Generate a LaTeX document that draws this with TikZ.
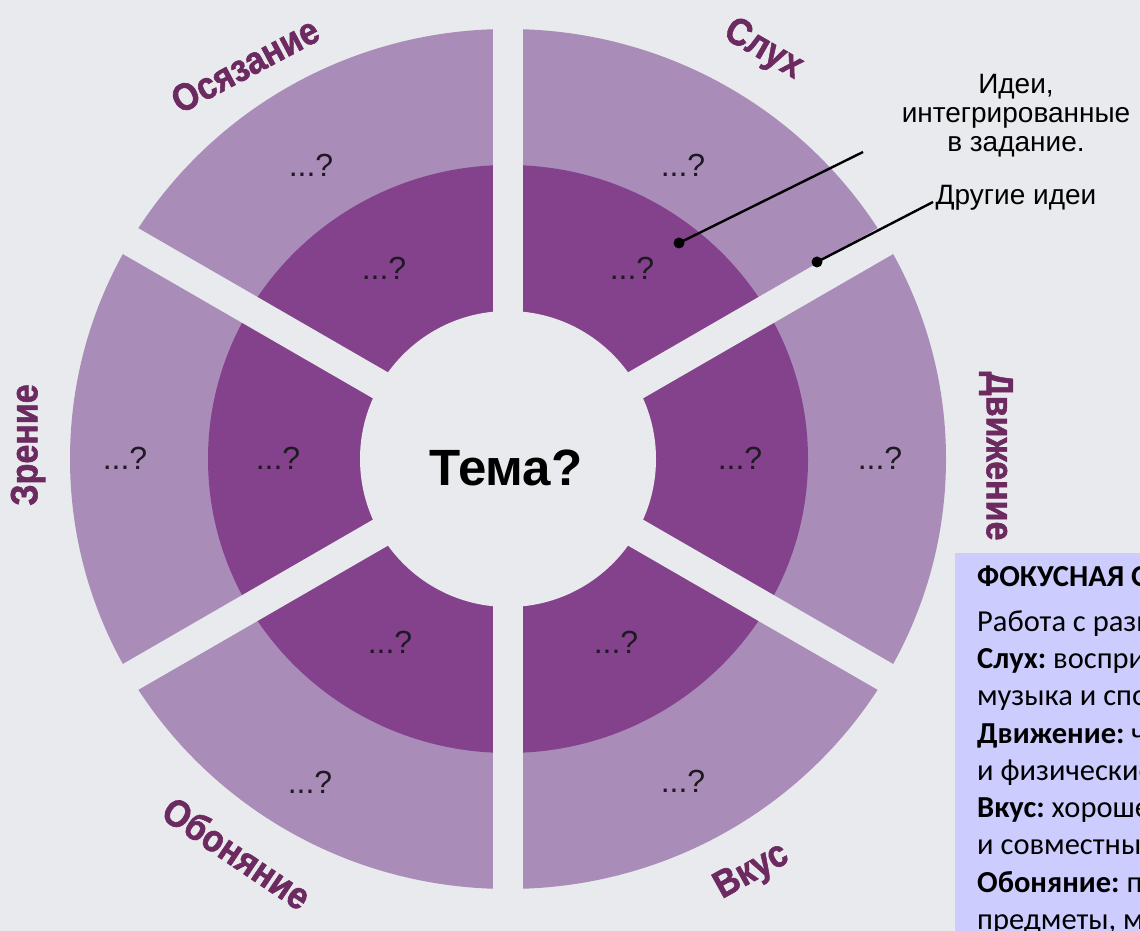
\documentclass[tikz,border=0pt]{standalone}
\usepackage{fontspec}
\setmainfont{Liberation Sans}
\newfontfamily\boxfont{Carlito}
\newfontfamily\heavyfont{Liberation Sans}[BoldFeatures={FakeBold=1.6}]
\definecolor{bg}{RGB}{232,234,237}
\definecolor{ringlight}{RGB}{170,140,185}
\definecolor{ringdark}{RGB}{132,66,140}
\definecolor{lblcol}{RGB}{108,42,96}
\definecolor{qcol}{RGB}{30,25,35}
\definecolor{boxcol}{RGB}{204,204,255}
\begin{document}
\begin{tikzpicture}[x=1pt,y=1pt,
  sense/.style={text=lblcol, inner sep=0pt, font=\heavyfont\bfseries\fontsize{34}{34}\selectfont},
  qmark/.style={text=qcol, inner sep=0pt, font=\fontsize{32}{32}\selectfont},
  note/.style={text=black, inner sep=0pt, font=\fontsize{28}{29}\selectfont},
  leader/.style={line width=2.4pt, black},
  dotmark/.style={circle, fill=black, inner sep=0pt, minimum size=11pt}]
\clip (0,0) rectangle (1140,931);
\fill[bg] (0,0) rectangle (1140,931);
\coordinate (C) at (508,472);
% rings
\fill[ringlight] (C) ellipse [x radius=438, y radius=430];
\fill[ringdark] (C) ellipse [x radius=300, y radius=294];
\fill[bg] (C) circle [radius=148];
\foreach \a in {30,90,150,210,270,330}
  \draw[bg, line width=30pt] (C) -- ++(\a:460);
% centre
\node[inner sep=0pt, font=\bfseries\fontsize{51}{51}\selectfont] (tema) at (506,463) {Тема?};
% question marks, inner ring
\node[qmark] (q1i) at (384,663) {...?};
\node[qmark] (q2i) at (632,663) {...?};
\node[qmark] (q3i) at (278,473) {...?};
\node[qmark] (q4i) at (740,473) {...?};
\node[qmark] (q5i) at (390,289) {...?};
\node[qmark] (q6i) at (616,289) {...?};
% question marks, outer ring
\node[qmark] (q1o) at (311,766) {...?};
\node[qmark] (q2o) at (683,766) {...?};
\node[qmark] (q3o) at (125,473) {...?};
\node[qmark] (q4o) at (880,473) {...?};
\node[qmark] (q5o) at (310,149) {...?};
\node[qmark] (q6o) at (683,150) {...?};
% sense labels
\node[sense, rotate=28] (osz) at (245,866) {\scalebox{1}[1.12]{Осязание}};
\node[sense, rotate=-30] (slu) at (763,881) {\scalebox{1}[1.12]{Слух}};
\node[sense, rotate=90] (zre) at (28,486) {\scalebox{1}[1.12]{Зрение}};
\node[sense, rotate=-90] (dvi) at (996,475) {\scalebox{1}[1.12]{Движение}};
\node[sense, rotate=-34] (obo) at (237,78) {\scalebox{1}[1.12]{Обоняние}};
\node[sense, rotate=29] (vku) at (752,59) {\scalebox{1}[1.12]{Вкус}};
% annotations
\node[note, align=center] (ideas) at (1016,815) {Идеи,\\интегрированные\\в задание.};
\node[note] (other) at (1016,733) {Другие идеи};
\node[dotmark] (d1) at (679,688) {};
\node[dotmark] (d2) at (817,669) {};
\coordinate (e1) at (863,779);
\coordinate (e2) at (933,729);
\draw[leader] (d1.center) -- (e1);
\draw[leader] (d2.center) -- (e2);
% focus box
\fill[boxcol] (955,0) rectangle (1140,378);
\node[anchor=north west, inner xsep=22pt, inner ysep=0pt,
      align=left,
      font=\boxfont\frenchspacing\fontsize{30.5}{37.3}\selectfont] (focus) at (955,365)
  {\textbf{ФОКУСНАЯ ОБЛАСТЬ}\\[7pt]
   Работа с разными органами чувств\\
   \textbf{Слух:} восприятие звуков,\\
   музыка и спокойствие\\
   \textbf{Движение:} чувство равновесия\\
   и физические упражнения\\
   \textbf{Вкус:} хорошее питание\\
   и совместные трапезы\\
   \textbf{Обоняние:} приятные запахи,\\
   предметы, материалы};
\end{tikzpicture}
\end{document}
